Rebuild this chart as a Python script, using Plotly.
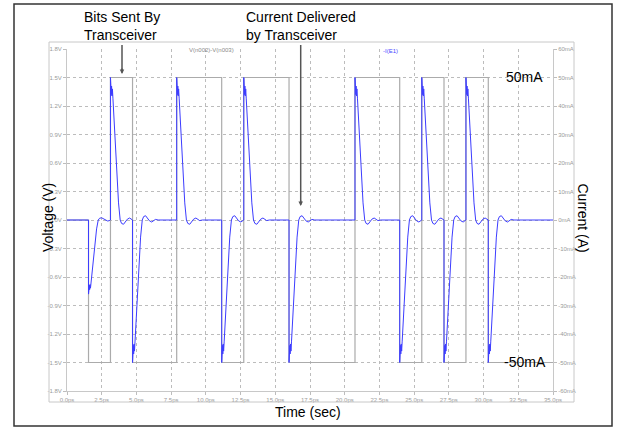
import plotly.graph_objects as go

# ---- data ----
# bit stream V(n002)-V(n003): edge times (ps) and level held after each edge (V)
bit_edges = [0.0, 1.55, 3.13, 4.72, 7.90, 11.14, 12.73, 15.99, 20.74, 23.96,
             25.55, 27.15, 28.73, 30.34, 35.0]
bit_levels = [0.0, -1.5, 1.5, -1.5, 1.5, -1.5, 1.5, -1.5, 1.5, -1.5,
              1.5, -1.5, 1.5, -1.5]

# current spikes -I(E1): one per edge, peak in mA
pulse_times = bit_edges[1:-1]
pulse_peaks = [-26, 50, -50, 50, -50, 50, -50, 50, -50, 50, -50, 50, -50]

# shape of one full +50mA spike, read from the pulse at 3.1ps (time after edge, mA)
pulse_dt = [0.0, 0.0, 0.02, 0.04, 0.06, 0.08, 0.11, 0.14, 0.18, 0.22, 0.34,
            0.46, 0.58, 0.70, 0.80, 0.94, 1.08, 1.22, 1.38, 1.50, 1.65, 1.85]
pulse_ma = [0, 50, 45, 48.5, 44, 47, 43.5, 46, 42.5, 38.5, 27,
            15.5, 6, 0, -1.2, -1.5, -0.7, 0.3, 0.7, 0.4, -0.2, 0]

x_ticks = [i * 2.5 for i in range(15)]
x_labels = ["%.1fps" % v for v in x_ticks]
v_ticks = [-1.8, -1.5, -1.2, -0.9, -0.6, -0.3, 0.0, 0.3, 0.6, 0.9, 1.2, 1.5, 1.8]
v_labels = ["%.1fV" % v for v in v_ticks]
i_ticks = [-60, -50, -40, -30, -20, -10, 0, 10, 20, 30, 40, 50, 60]
i_labels = ["%dmA" % v for v in i_ticks]

FONT = "Liberation Sans, Arial, sans-serif"
TICKFONT = dict(family=FONT, size=6, color="#9a9a9a")


def current_trace():
    t, i = [0.0], [0.0]
    for k, (t0, pk) in enumerate(zip(pulse_times, pulse_peaks)):
        t_next = pulse_times[k + 1] if k + 1 < len(pulse_times) else bit_edges[-1]
        for dt, v in zip(pulse_dt, pulse_ma):
            if t0 + dt < t_next:
                t.append(t0 + dt)
                i.append(v * pk / 50.0)
    t.append(bit_edges[-1])
    i.append(0.0)
    return t, i


def px(x):  # pixel -> paper x
    return (x - 67) / 486.0


def py(y):  # pixel -> paper y
    return (391 - y) / 342.0


def add_pointer(fig, x, y_top, y_tip):
    # shaft as a shape, head as a short annotation arrow
    fig.add_shape(type="line", xref="paper", yref="paper",
                  x0=px(x), x1=px(x), y0=py(y_top), y1=py(y_tip - 4),
                  line=dict(color="#555555", width=1.5))
    fig.add_annotation(x=px(x), y=py(y_tip), xref="paper", yref="paper", text="",
                       showarrow=True, ax=0, ay=-7, arrowhead=2, arrowsize=0.6,
                       arrowwidth=1.5, arrowcolor="#555555", font=dict(size=1))


def plot_scope():
    fig = go.Figure()

    fig.add_trace(go.Scatter(
        x=bit_edges, y=bit_levels + [bit_levels[-1]],
        mode="lines", line=dict(color="#ababab", width=1.2, shape="hv"),
        name="V(n002)-V(n003)"
    ))
    t, i = current_trace()
    fig.add_trace(go.Scatter(
        x=t, y=i, yaxis="y2",
        mode="lines", line=dict(color="rgb(60,60,255)", width=1),
        name="-I(E1)"
    ))

    axis_style = dict(
        tickfont=TICKFONT, ticks="outside", ticklen=3, tickcolor="#bdbdbd",
        showline=True, linecolor="#c8c8c8", linewidth=1, zeroline=False,
    )
    fig.update_layout(
        width=618, height=431,
        margin=dict(l=67, r=65, t=49, b=40),
        plot_bgcolor="white", paper_bgcolor="white",
        showlegend=False,
        font=dict(family=FONT),
        xaxis=dict(range=[0, 35], tickvals=x_ticks, ticktext=x_labels,
                   showgrid=True, gridcolor="#bcbcbc", griddash="dot", gridwidth=1,
                   **axis_style),
        yaxis=dict(range=[-1.8, 1.8], tickvals=v_ticks, ticktext=v_labels,
                   showgrid=True, gridcolor="#bcbcbc", griddash="dot", gridwidth=1,
                   **axis_style),
        yaxis2=dict(range=[-60, 60], tickvals=i_ticks, ticktext=i_labels,
                    overlaying="y", side="right", showgrid=False, **axis_style),
    )

    # frames round the plot
    fig.add_shape(type="rect", xref="paper", yref="paper",
                  x0=px(49), x1=px(574), y0=py(402), y1=py(42),
                  line=dict(color="#c8c8c8", width=1))
    fig.add_shape(type="rect", xref="paper", yref="paper",
                  x0=px(14), x1=px(612), y0=py(426), y1=py(4),
                  line=dict(color="#333333", width=1.5))

    big = dict(family=FONT, size=14, color="black")
    notes = [
        ("Bits Sent By<br>Transceiver", 82.5, 26.5, "left"),
        ("Current Delivered<br>by Transceiver", 245, 26.5, "left"),
        ("50mA", 524.5, 77, "center"),
        ("-50mA", 524.5, 362, "center"),
        ("Time (sec)", 308, 411.5, "center"),
    ]
    for text, x, y, anchor in notes:
        fig.add_annotation(text=text, x=px(x), y=py(y), xref="paper", yref="paper",
                           xanchor=anchor, yanchor="middle", align="left",
                           showarrow=False, font=big, borderpad=0)
    fig.add_annotation(text="Voltage (V)", x=px(38), y=py(218), xref="paper", yref="paper",
                       textangle=-90, showarrow=False, font=big)
    fig.add_annotation(text="Current (A)", x=px(593), y=py(217.5), xref="paper", yref="paper",
                       textangle=90, showarrow=False, font=big)

    # trace names
    fig.add_annotation(text="V(n002)-V(n003)", x=px(187), y=py(45.5), xref="paper", yref="paper",
                       showarrow=False, font=dict(family=FONT, size=6, color="#8a8a8a"))
    fig.add_annotation(text="-I(E1)", x=px(400), y=py(46), xref="paper", yref="paper",
                       showarrow=False, font=dict(family=FONT, size=6, color="#4a4aff"))

    add_pointer(fig, 122, 45, 74)
    add_pointer(fig, 300.7, 45, 206)
    return fig


fig = plot_scope()
# page body has a default 8px margin; drop it so the figure sits at the top-left corner
fig.write_html("out.html", config={"displayModeBar": False},
               post_script="document.body.style.margin='0';")
